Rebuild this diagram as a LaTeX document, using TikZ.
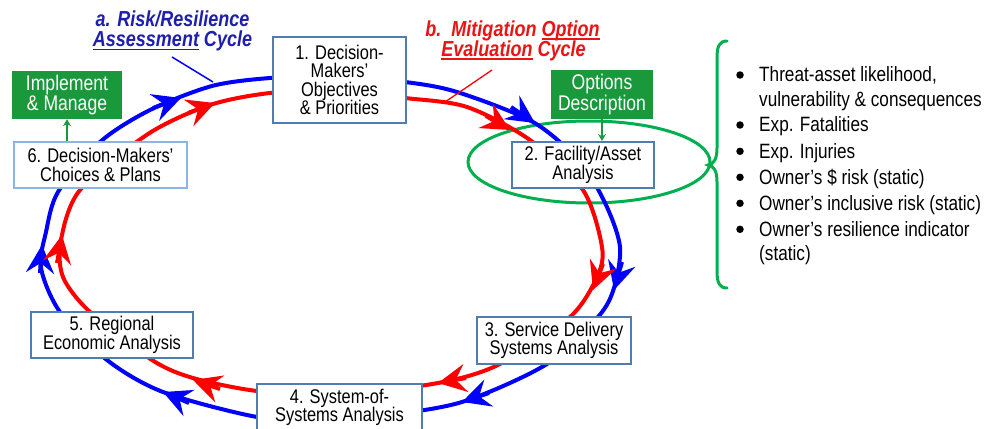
\documentclass[tikz,border=0pt]{standalone}
\usepackage{fontspec}
\setmainfont{Liberation Sans}[FakeStretch=0.83]
\usetikzlibrary{arrows.meta}

\definecolor{loopblue}{RGB}{0,0,255}
\definecolor{loopred}{RGB}{255,0,0}
\definecolor{boxline}{RGB}{79,125,178}
\definecolor{boxlinelight}{RGB}{141,180,226}
\definecolor{actgreen}{RGB}{26,153,60}
\definecolor{ringgreen}{RGB}{0,176,80}
\definecolor{titleblue}{RGB}{30,30,175}
\definecolor{titlered}{RGB}{235,20,20}

% thick underline placed a little below the baseline
\newcommand\ulined[1]{\leavevmode\setbox0\hbox{#1}\rlap{\rule[-3.2pt]{\wd0}{1.6pt}}\box0\relax}

\begin{document}
\begin{tikzpicture}[x=1pt,y=-1pt,
  stagebox/.style={draw=boxline, line width=2pt, fill=white, align=center,
    inner sep=0pt, font=\fontsize{19.8}{18.5}\selectfont},
  actbox/.style={fill=actgreen, text=white, align=center, inner sep=0pt,
    font=\fontsize{21.2}{20.7}\selectfont},
  cycleline/.style={line width=4pt},
  cyclehead/.style={line width=4pt, -{Stealth[length=28pt,width=28pt,inset=10pt]}},
  greenarrow/.style={draw=actgreen, line width=1.5pt, -{Stealth[length=7pt,width=8pt]}},
  titlea/.style={text=titleblue, inner sep=0pt, font=\fontsize{21.7}{20}\selectfont\bfseries\itshape},
  titleb/.style={text=titlered, inner sep=0pt, font=\fontsize{21.7}{20}\selectfont\bfseries\itshape},
  listtext/.style={inner sep=0pt, font=\fontsize{20.7}{24}\selectfont},
  dot/.style={circle, fill=black, inner sep=0pt, minimum size=7.5pt},
]
\useasboundingbox (0,0) rectangle (987,428);
\clip (0,0) rectangle (987,428);
\fill[white] (0,0) rectangle (987,428);

% ring round the facility analysis step
\draw[ringgreen, line width=3pt] (589,162) ellipse [x radius=121pt, y radius=41pt];

% outer cycle: risk/resilience assessment
\draw[loopblue, cycleline] plot[smooth cycle] coordinates {
  (150,110) (212,86) (270,78) (335,76) (405,82) (457,92) (533,122)
  (580,162) (606,205) (620,247) (614,288) (598,317) (547,364) (462,402)
  (380,416) (320,420) (257,417) (163,392) (107,360) (60,312) (41,268)
  (46,232) (58,192) (100,142)};
% inner cycle: mitigation option evaluation
\draw[loopred, cycleline] plot[smooth cycle] coordinates {
  (148,134) (210,105) (270,93) (335,91) (405,98) (467,107) (530,140)
  (583,190) (602,247) (597,277) (570,317) (500,364) (438,383) (335,395)
  (257,391) (193,378) (152,360) (90,312) (63,277) (61,240) (80,190)};

% direction heads on the outer cycle
\draw[loopblue, cyclehead] (153,108) -- (181,98);
\draw[loopblue, cyclehead] (511,107) -- (535,123);
\draw[loopblue, cyclehead] (622,262) -- (614,290);
\draw[loopblue, cyclehead] (489,393) -- (462,402);
\draw[loopblue, cyclehead] (189,403) -- (163,392);
\draw[loopblue, cyclehead] (40,273) -- (42,245);
% direction heads on the inner cycle
\draw[loopred, cyclehead] (188,113) -- (215,103);
\draw[loopred, cyclehead] (486,116) -- (510,130);
\draw[loopred, cyclehead] (603,264) -- (593,290);
\draw[loopred, cyclehead] (466,378) -- (438,383);
\draw[loopred, cyclehead] (220,389) -- (193,380);
\draw[loopred, cyclehead] (57,263) -- (62,235);

% analysis steps
\node[stagebox, minimum width=133pt, minimum height=86pt] (s1) at (339.5,80)
  {1. Decision-\\Makers’\\Objectives\\\& Priorities};
\node[stagebox, minimum width=142pt, minimum height=46pt] (s2) at (583,165)
  {2. Facility/Asset\\Analysis};
\node[stagebox, minimum width=154pt, minimum height=47pt] (s3) at (554,340.5)
  {3. Service Delivery\\Systems Analysis};
\node[stagebox, minimum width=165pt, minimum height=47pt] (s4) at (339.5,407.5)
  {4. System-of-\\Systems Analysis};
\node[stagebox, minimum width=162pt, minimum height=46pt] (s5) at (112,335)
  {5. Regional\\Economic Analysis};
\node[stagebox, draw=boxlinelight, line width=1.5pt, minimum width=173pt, minimum height=46pt] (s6) at (100.5,165)
  {6. Decision-Makers’\\Choices \& Plans};

% actions
\node[actbox, minimum width=110pt, minimum height=48pt] (impl) at (67,95)
  {Implement\\\& Manage};
\node[actbox, minimum width=102pt, minimum height=49pt] (opt) at (602,94.5)
  {Options\\Description};
\draw[greenarrow] (s6.north -| impl.south) -- (impl.south);
\draw[greenarrow] (opt.south) -- (opt.south |- s2.north);

% cycle titles and their pointers
\node[titlea, anchor=base] (ta1) at (172.5,27) {a. Risk/Resilience};
\node[titlea, anchor=base] (ta2) at (172.5,47) {\ulined{Assessment} Cycle};
\node[titleb, anchor=base] (tb1) at (512.5,36.7) {b.\ \ Mitigation \ulined{Option}};
\node[titleb, anchor=base] (tb2) at (513.5,56.7) {\ulined{Evaluation} Cycle};
\coordinate (pa0) at (172,57);
\coordinate (pa1) at (213,82);
\coordinate (pb0) at (492,70);
\coordinate (pb1) at (445,102);
\draw[loopblue, line width=1.5pt] (pa0) -- (pa1);
\draw[loopred, line width=1.3pt] (pb0) -- (pb1);

% brace gathering the facility outputs
\draw[ringgreen, line width=3pt, line cap=round]
  (727,41) .. controls (719,41) and (717,47) .. (717,58) -- (717,148)
  .. controls (717,159) and (714,164) .. (708,165)
  .. controls (714,166) and (717,171) .. (717,182) -- (717,271)
  .. controls (717,282) and (719,288) .. (727,288);

% facility outputs
\node[dot] (d1) at (740,75) {};
\node[listtext, anchor=base west] (l1) at (759,81.7) {Threat-asset likelihood,};
\node[listtext, anchor=base west] (l1b) at (759,106) {vulnerability \& consequences};
\node[dot] (d2) at (740,125) {};
\node[listtext, anchor=base west] (l2) at (759,131.7) {Exp. Fatalities};
\node[dot] (d3) at (740,151.3) {};
\node[listtext, anchor=base west] (l3) at (759,158) {Exp. Injuries};
\node[dot] (d4) at (740,177.3) {};
\node[listtext, anchor=base west] (l4) at (759,184) {Owner’s \$ risk (static)};
\node[dot] (d5) at (740,203.3) {};
\node[listtext, anchor=base west] (l5) at (759,210) {Owner’s inclusive risk (static)};
\node[dot] (d6) at (740,229.3) {};
\node[listtext, anchor=base west] (l6) at (759,236) {Owner’s resilience indicator};
\node[listtext, anchor=base west] (l6b) at (759,260) {(static)};
\end{tikzpicture}
\end{document}
